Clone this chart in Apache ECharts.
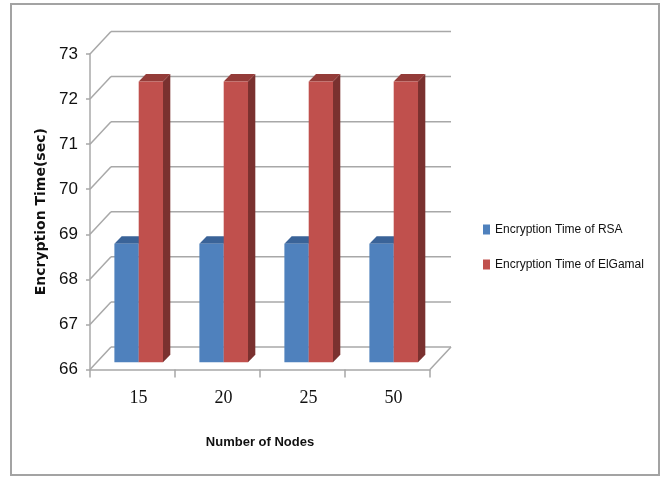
<!DOCTYPE html>
<html>
<head>
<meta charset="utf-8">
<script src="https://cdn.jsdelivr.net/npm/echarts@6/dist/echarts.min.js"></script>
<style>
  html, body { margin: 0; padding: 0; background: #ffffff; }
  #frame { position: absolute; left: 10px; top: 3px; width: 650px; height: 473px; border: 2px solid #a3a3a3; box-sizing: border-box; }
  #chart { position: absolute; left: 0; top: 0; width: 667px; height: 481px; }
</style>
</head>
<body>
<div id="frame"></div>
<div id="chart"></div>
<script>
// Encryption time per number of nodes
const nodeCounts = ['15', '20', '25', '50'];
const rsaTimes = [68.63, 68.63, 68.63, 68.63];
const elgamalTimes = [72.23, 72.23, 72.23, 72.23];
const yTicks = [66, 67, 68, 69, 70, 71, 72, 73];
const seriesNames = ['Encryption Time of RSA', 'Encryption Time of ElGamal'];

// oblique projection of the depth axis (pixels)
const DEPTH = [21, -22.5];
const BAR_FRONT = [7.2, -7.3];
const BAR_DEPTH = [7.3, -7.5];
const BAR_FRAC = 0.286;

const sans = "'Liberation Sans', Arial, sans-serif";
const gridColor = '#a8a8a8';

function renderWall(params, api) {
  const v = api.value(1);
  const band = api.size([1, 0])[0];
  const pL = api.coord([0, v]);
  const pR = api.coord([nodeCounts.length - 1, v]);
  const x0 = pL[0] - band / 2;
  const x1 = pR[0] + band / 2;
  const y = pL[1];
  const style = { stroke: gridColor, lineWidth: 1.5, fill: null };
  const children = [
    { type: 'line', shape: { x1: x0, y1: y, x2: x0 + DEPTH[0], y2: y + DEPTH[1] }, style },
    { type: 'line', shape: { x1: x0 + DEPTH[0], y1: y + DEPTH[1], x2: x1 + DEPTH[0], y2: y + DEPTH[1] }, style }
  ];
  if (v === yTicks[0]) {
    children.push({ type: 'line', shape: { x1: x1, y1: y, x2: x1 + DEPTH[0], y2: y + DEPTH[1] }, style });
  }
  return { type: 'group', children };
}

function makeBarRenderer(slot, front, top, side) {
  return function (params, api) {
    const idx = api.value(0);
    const val = api.value(1);
    const band = api.size([1, 0])[0];
    const w = band * BAR_FRAC;
    const c = api.coord([idx, val]);
    const b = api.coord([idx, yTicks[0]]);
    const left = c[0] + BAR_FRONT[0] - w - 1 + slot * w;
    const yT = c[1] + BAR_FRONT[1];
    const yB = b[1] + BAR_FRONT[1];
    const dx = BAR_DEPTH[0], dy = BAR_DEPTH[1];
    return {
      type: 'group',
      children: [
        { type: 'polygon', shape: { points: [[left + w, yT], [left + w + dx, yT + dy], [left + w + dx, yB + dy], [left + w, yB]] }, style: { fill: side } },
        { type: 'polygon', shape: { points: [[left, yT], [left + dx, yT + dy], [left + w + dx, yT + dy], [left + w, yT]] }, style: { fill: top } },
        { type: 'rect', shape: { x: left, y: yT, width: w, height: yB - yT }, style: { fill: front } }
      ]
    };
  };
}

const chart = echarts.init(document.getElementById('chart'), null, { renderer: 'canvas' });
chart.setOption({
  animation: false,
  backgroundColor: 'transparent',
  grid: { left: 90, right: 237, top: 54, bottom: 111.5, containLabel: false },
  legend: {
    orient: 'vertical',
    left: 478,
    top: 217,
    itemWidth: 7,
    itemHeight: 10,
    itemGap: 20,
    icon: 'rect',
    data: seriesNames,
    textStyle: { fontFamily: sans, fontSize: 12, color: '#111', lineHeight: 15 }
  },
  xAxis: {
    type: 'category',
    data: nodeCounts,
    name: 'Number of Nodes',
    nameLocation: 'middle',
    nameGap: 66,
    nameTextStyle: { fontFamily: sans, fontWeight: 'bold', fontSize: 13, color: '#111' },
    axisLine: { show: true, lineStyle: { color: gridColor, width: 1.5 } },
    axisTick: { show: true, length: 8, lineStyle: { color: gridColor, width: 1.5 } },
    axisLabel: { margin: 20, fontFamily: "'Liberation Serif', 'Times New Roman', serif", fontSize: 18, color: '#111', padding: [0, 0, 0, 12] },
    splitLine: { show: false }
  },
  yAxis: {
    type: 'value',
    min: 66,
    max: 73,
    interval: 1,
    name: 'Encryption Time(sec)',
    nameLocation: 'middle',
    nameGap: 36,
    nameTextStyle: { fontFamily: "'DejaVu Sans', sans-serif", fontWeight: 'bold', fontSize: 14, color: '#111' },
    axisLine: { show: true, lineStyle: { color: gridColor, width: 1.5 } },
    axisTick: { show: true, length: 4, lineStyle: { color: gridColor, width: 1.5 } },
    axisLabel: { margin: 12, fontFamily: sans, fontSize: 17, color: '#111' },
    splitLine: { show: false }
  },
  series: [
    {
      name: 'wall',
      type: 'custom',
      silent: true,
      z: 1,
      renderItem: renderWall,
      data: yTicks.map(v => [0, v])
    },
    {
      name: seriesNames[0],
      type: 'custom',
      z: 2,
      itemStyle: { color: '#4f81bd' },
      renderItem: makeBarRenderer(0, '#4f81bd', '#3a6398', '#365b88'),
      data: rsaTimes.map((v, i) => [i, v])
    },
    {
      name: seriesNames[1],
      type: 'custom',
      z: 3,
      itemStyle: { color: '#c0504d' },
      renderItem: makeBarRenderer(1, '#c0504d', '#943c39', '#7a312f'),
      data: elgamalTimes.map((v, i) => [i, v])
    }
  ]
});
</script>
</body>
</html>
